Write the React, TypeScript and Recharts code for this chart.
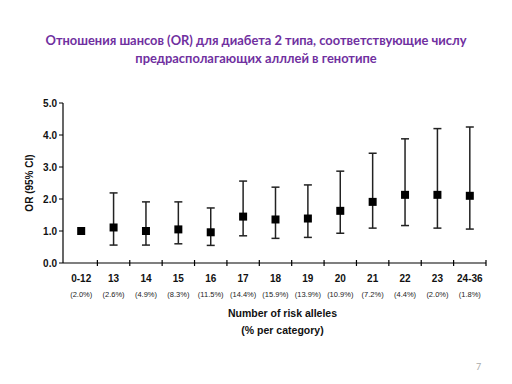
import React from "react";
import {
  ComposedChart,
  Line,
  ErrorBar,
  XAxis,
  YAxis,
} from "recharts";

/* ── data ── */

const categories = ["0-12", "13", "14", "15", "16", "17", "18", "19", "20", "21", "22", "23", "24-36"];
const shares = ["(2.0%)", "(2.6%)", "(4.9%)", "(8.3%)", "(11.5%)", "(14.4%)", "(15.9%)", "(13.9%)", "(10.9%)", "(7.2%)", "(4.4%)", "(2.0%)", "(1.8%)"];
const oddsRatio = [1.0, 1.11, 1.0, 1.05, 0.96, 1.45, 1.36, 1.39, 1.63, 1.91, 2.13, 2.13, 2.1];
const ciLow = [null, 0.56, 0.56, 0.6, 0.55, 0.85, 0.77, 0.8, 0.93, 1.09, 1.17, 1.09, 1.06];
const ciHigh = [null, 2.19, 1.91, 1.91, 1.72, 2.56, 2.37, 2.44, 2.87, 3.43, 3.88, 4.2, 4.25];
const yTicks = [0, 1, 2, 3, 4, 5];

const data = categories.map((c, i) => ({
  cat: c,
  share: shares[i],
  or: oddsRatio[i],
  ci:
    ciLow[i] == null || ciHigh[i] == null
      ? undefined
      : [oddsRatio[i] - (ciLow[i] as number), (ciHigh[i] as number) - oddsRatio[i]],
}));

const FONT = "'Liberation Sans', Arial, sans-serif";

/* ── square marker ── */
function SquareDot({ cx, cy }: any) {
  if (cx == null || cy == null) return null;
  return <rect x={cx - 4} y={cy - 4} width={8} height={8} fill="#000" />;
}

/* ── x tick: category + share, tick mark at right boundary ── */
function CatTick({ x, y, payload, index }: any) {
  const off = payload?.offset ?? 16;
  return (
    <g>
      <line x1={x + off} y1={y - 11} x2={x + off} y2={y - 5} stroke="#000" strokeWidth={1.2} />
      <text x={x} y={y + 11} textAnchor="middle" fontFamily={FONT} fontWeight="bold" fontSize={10} fill="#111">
        {payload.value}
      </text>
      <text x={x} y={y + 26} textAnchor="middle" fontFamily={FONT} fontSize={7.5} fill="#222">
        {shares[index] ?? data.find((d) => d.cat === payload.value)?.share}
      </text>
    </g>
  );
}

export default function App() {
  return (
    <div
      style={{
        position: "absolute",
        left: 0,
        top: 0,
        width: 512,
        height: 384,
        background: "#fff",
        fontFamily: FONT,
      }}
    >
      {/* Title */}
      <div
        style={{
          position: "absolute",
          top: 31,
          left: 0,
          width: 512,
          textAlign: "center",
          color: "#7030A0",
          fontFamily: "Lato, 'Open Sans', sans-serif",
          fontWeight: "bold",
          fontSize: 12.9,
          lineHeight: "18px",
        }}
      >
        Отношения шансов (OR) для диабета 2 типа, соответствующие числу
        <br />
        предрасполагающих алллей в генотипе
      </div>

      <div style={{ position: "absolute", left: 0, top: 0 }}>
        <ComposedChart
          width={512}
          height={384}
          data={data}
          margin={{ top: 103, right: 26, bottom: 91, left: 23 }}
        >
          <XAxis
            dataKey="cat"
            type="category"
            scale="band"
            height={30}
            interval={0}
            tickLine={false}
            axisLine={{ stroke: "#000", strokeWidth: 1.2 }}
            tick={<CatTick />}
            padding={{ left: 2, right: 0 }}
          />
          <YAxis
            type="number"
            domain={[0, 5]}
            ticks={yTicks}
            width={40}
            tickSize={4}
            tickLine={{ stroke: "#000" }}
            axisLine={{ stroke: "#000", strokeWidth: 1.2 }}
            tickFormatter={(v: number) => v.toFixed(1)}
            tick={{ fontFamily: FONT, fontWeight: "bold", fontSize: 10, fill: "#111" }}
            label={{
              value: "OR (95% CI)",
              angle: -90,
              position: "insideLeft",
              offset: 0,
              dx: 6,
              style: { fontFamily: FONT, fontWeight: "bold", fontSize: 10, fill: "#111", textAnchor: "middle" },
            }}
          />
          <Line
            dataKey="or"
            stroke="none"
            dot={<SquareDot />}
            activeDot={false}
            isAnimationActive={false}
          >
            <ErrorBar dataKey="ci" width={4} stroke="#222" strokeWidth={1.5} direction="y" />
          </Line>
        </ComposedChart>
      </div>

      {/* x-axis title */}
      <div
        style={{
          position: "absolute",
          top: 305,
          left: 72,
          width: 421,
          textAlign: "center",
          fontFamily: FONT,
          fontWeight: "bold",
          fontSize: 10.5,
          lineHeight: "17px",
          color: "#111",
        }}
      >
        Number of risk alleles
        <br />
        (% per category)
      </div>

      {/* page number */}
      <div
        style={{
          position: "absolute",
          top: 361,
          left: 476,
          fontFamily: "Lato, sans-serif",
          fontSize: 9,
          color: "#aaa",
        }}
      >
        7
      </div>
    </div>
  );
}
